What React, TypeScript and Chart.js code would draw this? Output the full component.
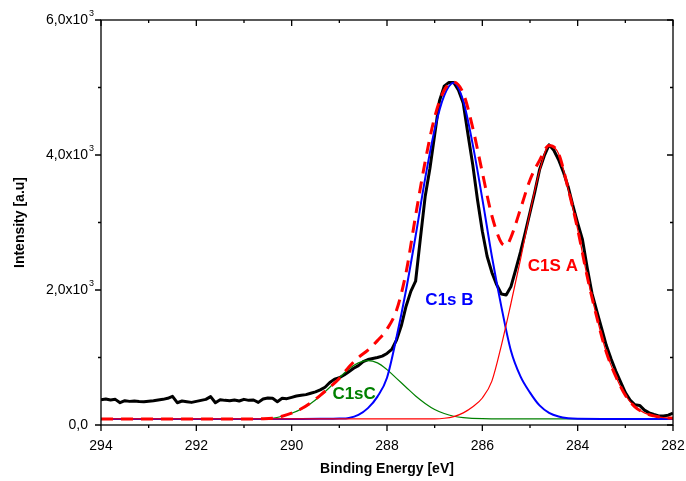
import { useEffect, useRef } from "react"
import { Chart, registerables } from "chart.js"

Chart.register(...registerables)

// measured spectrum, binding energy in eV
const energy = [
  294.0, 293.9, 293.8, 293.7, 293.6, 293.5, 293.4, 293.3, 293.2, 293.1,
  293.0, 292.9, 292.8, 292.7, 292.6, 292.5, 292.4, 292.3, 292.2, 292.1,
  292.0, 291.9, 291.8, 291.7, 291.6, 291.5, 291.4, 291.3, 291.2, 291.1,
  291.0, 290.9, 290.8, 290.7, 290.6, 290.5, 290.4, 290.3, 290.2, 290.1,
  290.0, 289.9, 289.8, 289.7, 289.6, 289.5, 289.4, 289.3, 289.2, 289.1,
  289.0, 288.9, 288.8, 288.7, 288.6, 288.5, 288.4, 288.3, 288.2, 288.1,
  288.0, 287.9, 287.8, 287.7, 287.6, 287.5, 287.4, 287.3, 287.2, 287.1,
  287.0, 286.9, 286.8, 286.7, 286.6, 286.5, 286.4, 286.3, 286.2, 286.1,
  286.0, 285.9, 285.8, 285.7, 285.6, 285.5, 285.4, 285.3, 285.2, 285.1,
  285.0, 284.9, 284.8, 284.7, 284.6, 284.5, 284.4, 284.3, 284.2, 284.1,
  284.0, 283.9, 283.8, 283.7, 283.6, 283.5, 283.4, 283.3, 283.2, 283.1,
  283.0, 282.9, 282.8, 282.7, 282.6, 282.5, 282.4, 282.3, 282.2, 282.1,
  282.0,
]
const measured = [
  375, 385, 370, 380, 330, 360, 350, 355, 348, 345,
  352, 360, 370, 380, 395, 425, 330, 355, 345, 335,
  350, 365, 380, 420, 330, 375, 365, 360, 370, 355,
  380, 365, 370, 335, 385, 400, 395, 345, 395, 390,
  410, 430, 440, 450, 470, 490, 520, 560, 630, 680,
  700, 740, 790, 840, 880, 940, 970, 985, 1000, 1020,
  1060, 1120, 1260, 1470, 1760, 1980, 2130, 2760, 3380, 3800,
  4300, 4800, 5020, 5075, 5075, 4960, 4766, 4300, 3850, 3330,
  2870, 2500, 2260, 2080, 1940, 1926, 2050, 2300, 2560, 2850,
  3150, 3450, 3780, 3990, 4150, 4070, 3930, 3750, 3530, 3250,
  2990, 2750, 2330, 1950, 1690, 1440, 1180, 980, 800, 640,
  480, 370, 300, 290, 220, 180, 155, 135, 135, 145,
  175,
]

// C1s B component
const peakBEnergy = [294, 291, 290, 289.4, 289.0, 288.8, 288.6, 288.4, 288.2, 288.0, 287.8, 287.6, 287.4, 287.2, 287.0, 286.8, 286.6, 286.4, 286.2, 286.0, 285.8, 285.6, 285.4, 285.2, 285.0, 284.8, 284.6, 284.4, 284.2, 284.0, 283.5, 282]
const peakBValues = [90, 90, 90, 91, 95, 105, 150, 250, 420, 700, 1300, 2000, 2800, 3650, 4380, 4880, 5070, 4800, 4150, 3350, 2500, 1750, 1100, 720, 480, 290, 180, 125, 100, 92, 90, 90]

// C1S A component
const peakAEnergy = [294, 288, 287.0, 286.8, 286.6, 286.4, 286.2, 286.0, 285.8, 285.6, 285.4, 285.2, 285.0, 284.8, 284.6, 284.4, 284.2, 284.0, 283.8, 283.6, 283.4, 283.2, 283.0, 282.8, 282.6, 282.4, 282.2, 282.0]
const peakAValues = [90, 90, 92, 100, 125, 180, 270, 400, 650, 1180, 1800, 2450, 3150, 3760, 4140, 4020, 3500, 2900, 2200, 1600, 1080, 720, 440, 270, 180, 135, 110, 100]

// C1sC component
const peakCEnergy = [294, 291, 290.6, 290.4, 290.2, 290.0, 289.8, 289.6, 289.4, 289.2, 289.0, 288.8, 288.6, 288.4, 288.2, 288.0, 287.8, 287.6, 287.4, 287.2, 287.0, 286.8, 286.6, 286.4, 286.0, 285.0, 282]
const peakCValues = [90, 90, 92, 100, 130, 175, 235, 320, 430, 560, 700, 830, 920, 955, 920, 820, 690, 560, 430, 320, 230, 170, 130, 110, 95, 90, 90]

// fit envelope
const envelopeEnergy = [294, 291, 290.6, 290.4, 290.2, 290.0, 289.8, 289.6, 289.4, 289.2, 289.0, 288.8, 288.6, 288.4, 288.2, 288.0, 287.8, 287.6, 287.4, 287.2, 287.0, 286.8, 286.6, 286.4, 286.2, 286.0, 285.8, 285.6, 285.5, 285.4, 285.2, 285.0, 284.8, 284.6, 284.4, 284.2, 284.0, 283.8, 283.6, 283.4, 283.2, 283.0, 282.8, 282.6, 282.4, 282.2, 282.0]
const envelopeValues = [90, 90, 92, 100, 130, 175, 240, 330, 440, 560, 690, 860, 1000, 1110, 1250, 1420, 1700, 2260, 3100, 3900, 4560, 4960, 5080, 4914, 4400, 3740, 3100, 2700, 2660, 2780, 3200, 3630, 3920, 4140, 4020, 3500, 2900, 2200, 1600, 1080, 720, 440, 270, 180, 135, 110, 100]

// axis ticks
const xMajorTicks = [294, 292, 290, 288, 286, 284, 282]
const xMinorTicks = [293, 291, 289, 287, 285, 283]
const yMajorTicks = [0, 2000, 4000, 6000]
const yMinorTicks = [1000, 3000, 5000]
const yTickLabels = ["0,0", "2,0x10", "4,0x10", "6,0x10"]
const yTickExponents = ["", "3", "3", "3"]

// peak annotations
const peakLabels = ["C1s B", "C1S A", "C1sC"]
const peakLabelX = [286.69, 284.52, 288.69]
const peakLabelY = [1844, 2356, 459]
const peakLabelColors = ["#0000ff", "#ff0000", "#008000"]

const FONT = "'Liberation Sans', Arial, sans-serif"

const zip = (xs: number[], ys: number[]) => xs.map((x, i) => ({ x, y: ys[i] }))

const framePlugin = {
  id: "originFrame",
  afterDatasetsDraw(chart: any) {
    const { ctx, chartArea: a, scales } = chart
    const xs = scales.x
    const ys = scales.y
    ctx.save()
    ctx.strokeStyle = "#000"
    ctx.lineWidth = 1.3
    ctx.strokeRect(a.left, a.top, a.right - a.left, a.bottom - a.top)

    const xTick = (v: number, len: number) => {
      const px = xs.getPixelForValue(v)
      ctx.beginPath()
      ctx.moveTo(px, a.bottom)
      ctx.lineTo(px, a.bottom + len)
      ctx.moveTo(px, a.top)
      ctx.lineTo(px, a.top + len)
      ctx.stroke()
    }
    const yTick = (v: number, len: number) => {
      const py = ys.getPixelForValue(v)
      ctx.beginPath()
      ctx.moveTo(a.left, py)
      ctx.lineTo(a.left - len, py)
      ctx.moveTo(a.right, py)
      ctx.lineTo(a.right - len, py)
      ctx.stroke()
    }
    xMajorTicks.forEach((v) => xTick(v, 6))
    xMinorTicks.forEach((v) => xTick(v, 3))
    yMajorTicks.forEach((v) => yTick(v, 6))
    yMinorTicks.forEach((v) => yTick(v, 3))

    // y tick labels with superscript exponent
    ctx.fillStyle = "#000"
    ctx.textBaseline = "middle"
    yMajorTicks.forEach((v, i) => {
      const py = ys.getPixelForValue(v)
      ctx.font = `14px ${FONT}`
      ctx.textAlign = "right"
      ctx.fillText(yTickLabels[i], a.left - 13, py)
      if (yTickExponents[i]) {
        ctx.font = `9px ${FONT}`
        ctx.textAlign = "left"
        ctx.fillText(yTickExponents[i], a.left - 12, py - 6)
      }
    })

    // peak labels
    ctx.font = `bold 17px ${FONT}`
    ctx.textAlign = "center"
    peakLabels.forEach((t, i) => {
      ctx.fillStyle = peakLabelColors[i]
      ctx.fillText(t, xs.getPixelForValue(peakLabelX[i]), ys.getPixelForValue(peakLabelY[i]))
    })
    ctx.restore()
  },
}

export default function App() {
  const canvasRef = useRef<HTMLCanvasElement>(null)

  useEffect(() => {
    document.body.style.margin = "0"
    if (!canvasRef.current) return

    const chart = new Chart(canvasRef.current, {
      type: "line",
      data: {
        datasets: [
          {
            label: "Envelope",
            data: zip(envelopeEnergy, envelopeValues),
            borderColor: "#ff0000",
            borderWidth: 3,
            borderDash: [12, 8],
            cubicInterpolationMode: "monotone",
            pointRadius: 0,
            order: 0,
          },
          {
            label: "C1S A",
            data: zip(peakAEnergy, peakAValues),
            borderColor: "#ff0000",
            borderWidth: 1.2,
            cubicInterpolationMode: "monotone",
            pointRadius: 0,
            order: 1,
          },
          {
            label: "C1s B",
            data: zip(peakBEnergy, peakBValues),
            borderColor: "#0000ff",
            borderWidth: 2,
            cubicInterpolationMode: "monotone",
            pointRadius: 0,
            order: 2,
          },
          {
            label: "C1sC",
            data: zip(peakCEnergy, peakCValues),
            borderColor: "#008000",
            borderWidth: 1.2,
            cubicInterpolationMode: "monotone",
            pointRadius: 0,
            order: 3,
          },
          {
            label: "Measured",
            data: zip(energy, measured),
            borderColor: "#000000",
            borderWidth: 3,
            borderJoinStyle: "round",
            tension: 0,
            pointRadius: 0,
            order: 4,
          },
        ],
      },
      options: {
        animation: false,
        responsive: true,
        maintainAspectRatio: false,
        layout: { padding: { top: 20, right: 13, left: 0, bottom: 0 } },
        plugins: {
          legend: { display: false },
          tooltip: { enabled: false },
        },
        scales: {
          x: {
            type: "linear",
            reverse: true,
            min: 282,
            max: 294,
            afterBuildTicks: (s: any) => {
              s.ticks = xMajorTicks.map((v) => ({ value: v }))
            },
            afterFit: (s: any) => {
              s.height = 56
              s.paddingLeft = 0
              s.paddingRight = 0
            },
            grid: { display: false, drawTicks: false },
            border: { display: false },
            ticks: {
              padding: 13,
              color: "#000",
              maxRotation: 0,
              autoSkip: false,
              font: { family: FONT, size: 14 },
              callback: (v: any) => String(v),
            },
            title: {
              display: true,
              text: "Binding Energy [eV]",
              color: "#000",
              font: { family: FONT, size: 14, weight: "bold" },
              padding: { top: 0, bottom: 3 },
            },
          },
          y: {
            min: 0,
            max: 6000,
            afterFit: (s: any) => {
              s.width = 101
              s.paddingTop = 0
              s.paddingBottom = 0
            },
            grid: { display: false, drawTicks: false },
            border: { display: false },
            ticks: { display: false },
            title: {
              display: true,
              text: "Intensity [a.u]",
              color: "#000",
              font: { family: FONT, size: 14, weight: "bold" },
              padding: { top: 12, bottom: 0 },
            },
          },
        },
      },
      plugins: [framePlugin],
    })

    return () => {
      chart.destroy()
    }
  }, [])

  return (
    <div style={{ width: 686, height: 481, position: "relative", background: "#fff" }}>
      <canvas ref={canvasRef}></canvas>
    </div>
  )
}
